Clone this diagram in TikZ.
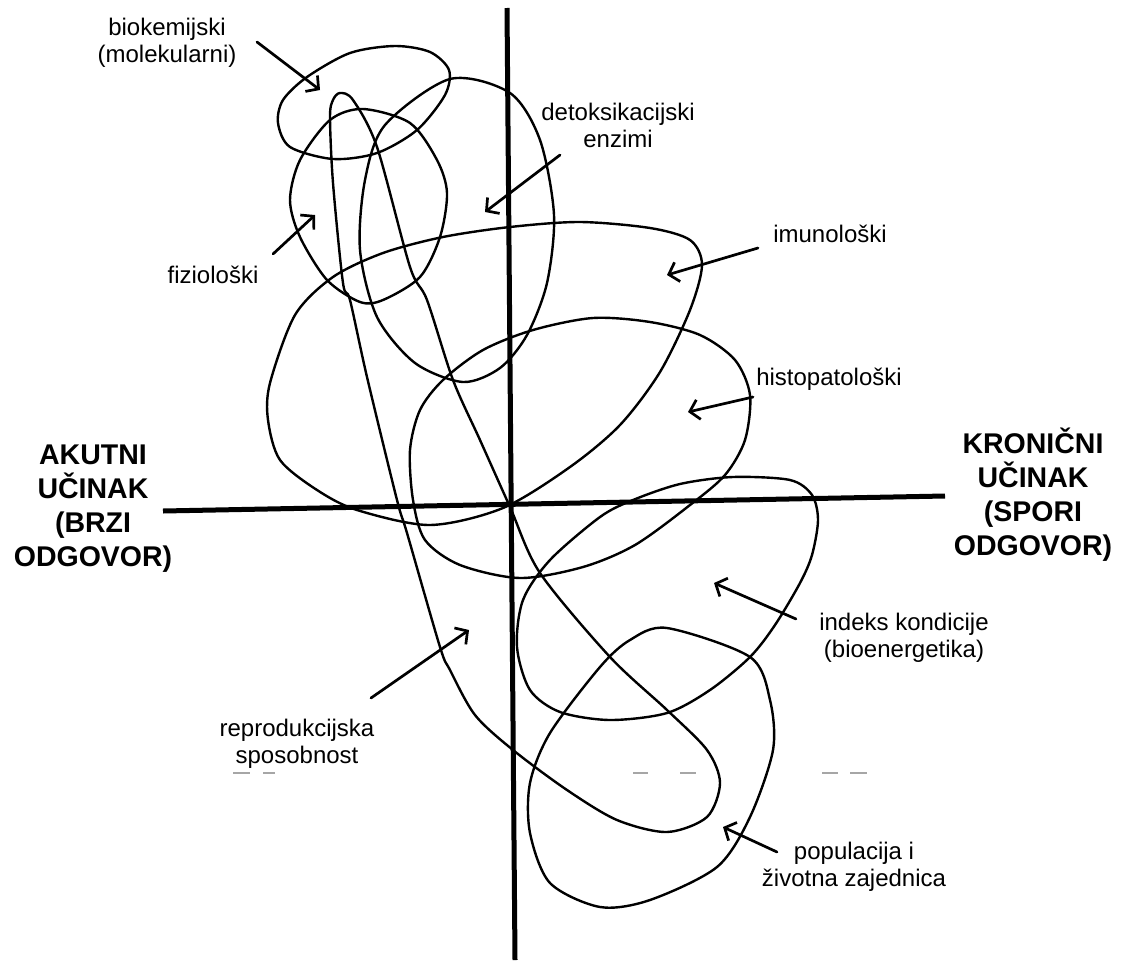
\documentclass[tikz,border=0pt]{standalone}
\usepackage{fontspec}
\setmainfont{Liberation Sans}
\usetikzlibrary{arrows.meta}

\begin{document}
\begin{tikzpicture}[
  x=1pt, y=-1pt,
  blob/.style={line width=2.4pt, line join=round},
  ax/.style={line width=5pt},
  arr/.style={-{Straight Barb[length=9pt, width=20pt]}, line width=2.7pt, line cap=round},
  lab/.style={font=\fontsize{24}{26.5}\selectfont, align=center, anchor=base, inner sep=0pt},
  axlab/.style={font=\fontsize{28.5}{34}\selectfont\bfseries, align=center, anchor=base, inner sep=0pt},
  smudge/.style={gray!70, line width=1.4pt}]
\useasboundingbox (0,0) rectangle (1124,964);
% axes
\coordinate (top) at (507,8);
\coordinate (bottom) at (515,960);
\coordinate (left) at (163,511);
\coordinate (right) at (945,496);
\draw[ax] (top) -- (bottom);
\draw[ax] (left) -- (right);
\node[axlab] (akutni) at (93,566) {AKUTNI\\UČINAK\\(BRZI\\ODGOVOR)};
\node[axlab] (kronicni) at (1033,555) {KRONIČNI\\UČINAK\\(SPORI\\ODGOVOR)};
% levels of response
\draw[blob] plot[smooth cycle] coordinates {(278,123) (290,147) (333,159) (377,153) (417,130) (445,95) (449,70) (430,52) (395,46) (350,53) (307,77) (283,100)};
\draw[blob] plot[smooth cycle] coordinates {(290,200) (300,160) (330,120) (363,109) (410,123) (437,160) (447,193) (440,237) (420,277) (383,300) (360,302) (327,280) (300,237)};
\draw[blob] plot[smooth cycle] coordinates {(450,79) (510,93) (540,140) (554,215) (547,283) (527,335) (500,368) (463,382) (415,363) (377,317) (360,250) (365,180) (385,125)};
\draw[blob] plot[smooth cycle] coordinates {(270,383) (268,420) (280,460) (317,490) (357,510) (430,525) (503,508) (570,467) (620,425) (660,372) (690,310) (702,265) (690,240) (650,228) (580,222) (510,227) (443,237) (383,253) (333,277) (295,315)};
\draw[blob] plot[smooth cycle] coordinates {(410,450) (420,410) (443,380) (483,350) (533,330) (593,318) (650,322) (700,335) (735,360) (750,395) (745,440) (725,475) (690,505) (635,545) (583,567) (520,578) (460,565) (425,540) (413,500)};
\draw[blob] plot[smooth cycle] coordinates {(517,647) (523,600) (550,560) (600,517) (633,500) (680,484) (733,477) (790,480) (812,495) (818,520) (812,555) (800,583) (775,625) (750,657) (710,690) (667,713) (610,720) (560,712) (530,690)};
\draw[blob] plot[smooth cycle] coordinates {(630,640) (667,628) (750,657) (770,700) (773,750) (750,817) (717,867) (650,900) (600,907) (550,883) (530,833) (530,783) (550,733) (600,667)};
\draw[blob] plot[smooth cycle] coordinates {(340,93) (353,100) (377,147) (410,267) (427,300) (453,380) (480,440) (510,507) (540,573) (610,657) (667,710) (707,750) (720,783) (707,817) (667,832) (617,820) (567,790) (513,750) (475,715) (450,670) (440,647) (407,533) (397,500) (367,377) (350,300) (343,283) (333,183) (330,117) (333,100)};
% labels
\node[lab] (biokem) at (167,62) {biokemijski\\(molekularni)};
\node[lab] (fizio) at (213,283) {fiziološki};
\node[lab] (detoks) at (618,147) {detoksikacijski\\enzimi};
\node[lab] (imuno) at (830,242) {imunološki};
\node[lab] (histo) at (829,385) {histopatološki};
\node[lab] (indeks) at (904,657) {indeks kondicije\\(bioenergetika)};
\node[lab] (repro) at (297,763) {reprodukcijska\\sposobnost};
\node[lab] (popul) at (854,886) {populacija i\\životna zajednica};
% arrows
\coordinate (biokem-t) at (257,42);  \coordinate (biokem-h) at (320,90);
\coordinate (fizio-t) at (273,254);  \coordinate (fizio-h) at (315,215);
\coordinate (detoks-t) at (560,155); \coordinate (detoks-h) at (485,212);
\coordinate (imuno-t) at (758,248);  \coordinate (imuno-h) at (667,275);
\coordinate (histo-t) at (753,397);  \coordinate (histo-h) at (688,412);
\coordinate (indeks-t) at (796,619); \coordinate (indeks-h) at (714,583);
\coordinate (repro-t) at (371,698);  \coordinate (repro-h) at (469,630);
\coordinate (popul-t) at (777,852);  \coordinate (popul-h) at (723,827);
\foreach \a in {biokem,fizio,detoks,imuno,histo,indeks,repro,popul}
  \draw[arr] (\a-t) -- (\a-h);
% faint marks of the scan
\foreach \x/\w in {233/17,263/12,633/15,680/16,822/16,850/17}
  \draw[smudge] (\x,773) -- ++(\w,0);
\end{tikzpicture}
\end{document}
